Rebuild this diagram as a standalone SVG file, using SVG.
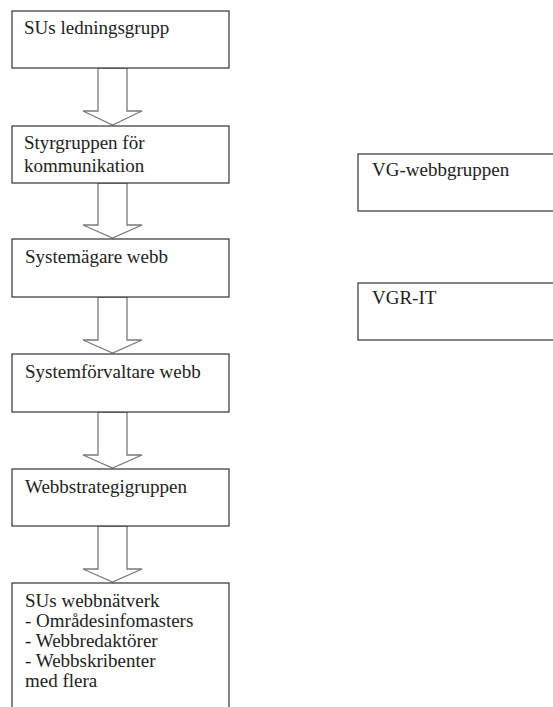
<svg xmlns="http://www.w3.org/2000/svg" width="553" height="707" viewBox="0 0 553 707">
  <style>
    .box { fill: #ffffff; stroke: #333333; stroke-width: 1.2; }
    .arrow { fill: #ffffff; stroke: #7a7a7a; stroke-width: 1.3; stroke-linejoin: miter; }
    .t { font-family: 'Liberation Serif', 'DejaVu Serif', 'Times New Roman', serif; font-size: 19px; fill: #222222; }
  </style>
  <rect width="553" height="707" fill="#ffffff"/>
  <g id="connectors">
    <polygon class="arrow" points="98,68 127,68 127,111 142,111 112.5,125 83,111 98,111"/>
    <polygon class="arrow" points="98,183 127,183 127,225 142,225 112.5,238 83,225 98,225"/>
    <polygon class="arrow" points="98,297 127,297 127,340 142,340 112.5,353 83,340 98,340"/>
    <polygon class="arrow" points="98,412 127,412 127,455 142,455 112.5,468 83,455 98,455"/>
    <polygon class="arrow" points="98,526 127,526 127,569 142,569 112.5,582 83,569 98,569"/>
  </g>
  <g id="n1">
    <rect class="box" x="12" y="11" width="217" height="57"/>
    <text class="t" x="24" y="34">SUs ledningsgrupp</text>
  </g>
  <g id="n2">
    <rect class="box" x="12" y="126" width="217" height="57"/>
    <text class="t" x="24" y="149">Styrgruppen för</text>
    <text class="t" x="24" y="172">kommunikation</text>
  </g>
  <g id="n3">
    <rect class="box" x="12" y="239" width="217" height="58"/>
    <text class="t" x="25" y="263">Systemägare webb</text>
  </g>
  <g id="n4">
    <rect class="box" x="12" y="354" width="217" height="58"/>
    <text class="t" x="25" y="378">Systemförvaltare webb</text>
  </g>
  <g id="n5">
    <rect class="box" x="12" y="469" width="217" height="57"/>
    <text class="t" x="25" y="493">Webbstrategigruppen</text>
  </g>
  <g id="n6">
    <rect class="box" x="12" y="583" width="217" height="140"/>
    <text class="t" x="25" y="607">SUs webbnätverk</text>
    <text class="t" x="25" y="627">- Områdesinfomasters</text>
    <text class="t" x="25" y="647">- Webbredaktörer</text>
    <text class="t" x="25" y="667">- Webbskribenter</text>
    <text class="t" x="25" y="687">med flera</text>
  </g>
  <g id="n7">
    <rect class="box" x="358" y="154" width="210" height="57"/>
    <text class="t" x="372" y="176">VG-webbgruppen</text>
  </g>
  <g id="n8">
    <rect class="box" x="358" y="283" width="210" height="57"/>
    <text class="t" x="372" y="304">VGR-IT</text>
  </g>
</svg>
